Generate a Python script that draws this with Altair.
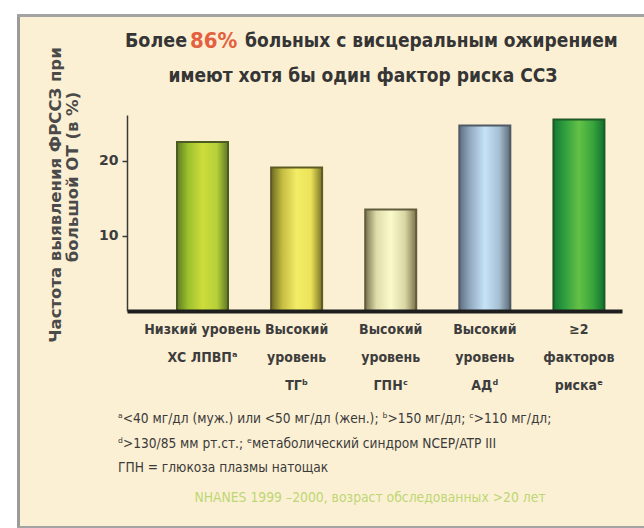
import altair as alt
import pandas as pd

# Risk-factor categories (axis labels split on "|") and prevalence, %
categories = ["hdl", "tg", "glu", "bp", "multi"]
labels = [
    "Низкий уровень|ХС ЛПВПᵃ",
    "Высокий|уровень|ТГᵇ",
    "Высокий|уровень|ГПНᶜ",
    "Высокий|уровень|АДᵈ",
    "≥2|факторов|рискаᵉ",
]
values = [22.5, 19.1, 13.5, 24.7, 25.5]
y_ticks = [10, 20]

title_lead = "Более"
title_pct = "86%"
title_rest = "больных с висцеральным ожирением"
title_line2 = "имеют хотя бы один фактор риска ССЗ"
y_title = ["Частота выявления ФРССЗ при", "большой ОТ (в %)"]
footnotes = [
    "ᵃ<40 мг/дл (муж.) или <50 мг/дл (жен.); ᵇ>150 мг/дл; ᶜ>110 мг/дл;",
    "ᵈ>130/85 мм рт.ст.; ᵉметаболический синдром NCEP/ATP III",
    "ГПН = глюкоза плазмы натощак",
]
source = "NHANES 1999 –2000, возраст обследованных >20 лет"

NARROW = "Liberation Sans Narrow, DejaVu Sans Condensed, Arial Narrow, sans-serif"
WIDE = "DejaVu Sans, Verdana, sans-serif"
CREAM = "#fcf0d4"

# cylinder-like shading for each bar: (edge, mid, highlight, mid, edge, stroke)
shades = {
    "hdl": ["#5f7d22", "#9cc12e", "#cddc3a", "#b7d03a", "#5c7a24", "#4d5a22"],
    "tg": ["#6d6a22", "#c4bd42", "#f3ec66", "#ece35a", "#7b7424", "#5e5a26"],
    "glu": ["#7a7450", "#dedcaa", "#fbfacc", "#d9d6a4", "#7a7048", "#615c3c"],
    "bp": ["#5f7080", "#93abc2", "#c6e3f8", "#a6bfd2", "#5c6c78", "#4f5a64"],
    "multi": ["#137a32", "#2f9e3e", "#64c146", "#37a43c", "#117030", "#1c5a26"],
}

df = pd.DataFrame({"cat": categories, "label": labels, "value": values})

x_enc = alt.X(
    "label:N",
    sort=labels,
    scale=alt.Scale(paddingInner=0.458, paddingOuter=0.359, align=0.74),
    axis=alt.Axis(
        title=None,
        labelAngle=0,
        labelExpr="split(datum.label, '|')",
        labelFont=NARROW,
        labelFontSize=14,
        labelFontWeight="bold",
        labelColor="#3d3d3d",
        labelLineHeight=28,
        labelPadding=11,
        labelBaseline="top",
        ticks=False,
        domainColor="#1e1e1e",
        domainWidth=4,
        zindex=1,
    ),
)
y_enc = alt.Y(
    "value:Q",
    scale=alt.Scale(domain=[0, 26.1], nice=False),
    axis=alt.Axis(
        title=None,
        values=y_ticks,
        grid=False,
        labelFont=WIDE,
        labelFontSize=14,
        labelFontWeight="bold",
        labelColor="#3d3d3d",
        labelPadding=4,
        tickSize=5,
        tickWidth=1.5,
        tickColor="#3a3a3a",
        domainColor="#3a3a3a",
        domainWidth=1.5,
        zindex=1,
    ),
)

layers = []

# frame around the cream panel
def strip(x0, x1, y0, y1, colour):
    return (
        alt.Chart(pd.DataFrame({"k": [0]}))
        .mark_rect(color=colour)
        .encode(x=alt.value(x0), x2=alt.value(x1), y=alt.value(y0), y2=alt.value(y1))
    )

layers.append(strip(-127, -110, -115, 413, "white"))
layers.append(strip(-127, 517, -115, -101, "white"))
layers.append(strip(-110, -107, -101, 413, "#9b9b9b"))
layers.append(strip(-110, 517, -101, -98, "#a3a3a3"))
layers.append(strip(-110, 517, 411, 413, "#a3a3a3"))

for cat in categories:
    e, m1, hi, m2, e2, stroke = shades[cat]
    grad = alt.Gradient(
        gradient="linear",
        x1=0, x2=1, y1=0, y2=0,
        stops=[
            alt.GradientStop(color=e, offset=0),
            alt.GradientStop(color=m1, offset=0.22),
            alt.GradientStop(color=hi, offset=0.5),
            alt.GradientStop(color=m2, offset=0.78),
            alt.GradientStop(color=e2, offset=1),
        ],
    )
    layers.append(
        alt.Chart(df)
        .transform_filter(alt.datum.cat == cat)
        .mark_bar(color=grad, stroke=stroke, strokeWidth=2)
        .encode(x=x_enc, y=y_enc)
    )

def text_layer(text, x, y, size, colour, font, weight="bold", align="left", angle=0):
    return (
        alt.Chart(pd.DataFrame({"t": [text]}))
        .mark_text(
            font=font, fontSize=size, fontWeight=weight, color=colour,
            align=align, baseline="middle", angle=angle,
        )
        .encode(text="t:N", x=alt.value(x), y=alt.value(y))
    )

# headline, with the share highlighted
layers.append(text_layer(title_lead, -2, -74, 19.5, "#353535", NARROW))
layers.append(text_layer(title_pct, 63, -74, 22, "#e4603e", NARROW))
layers.append(text_layer(title_rest, 118, -74, 19, "#353535", NARROW))
layers.append(text_layer(title_line2, 236, -39, 19, "#353535", NARROW, align="center"))

# rotated y-axis title
layers.append(text_layer(y_title[0], -71, 80, 16.5, "#4a4a4a", WIDE, align="center", angle=270))
layers.append(text_layer(y_title[1], -54, 62, 16.5, "#4a4a4a", WIDE, align="center", angle=270))

# notes under the chart
for i, note in enumerate(footnotes):
    layers.append(text_layer(note, -9, 304 + 24.5 * i, 13.6, "#3a3a3a", NARROW, weight="normal"))
layers.append(text_layer(source, 243, 383, 13.8, "#bcd775", NARROW, weight="normal", align="center"))

chart = (
    alt.layer(*layers)
    .properties(
        width=495,
        height=196,
        autosize=alt.AutoSizeParams(type="none"),
        padding={"left": 127, "top": 115, "right": 22, "bottom": 217},
        background=CREAM,
    )
    .configure_view(stroke=None)
)

chart.save("out.html", embed_options={"renderer": "svg", "actions": False})
